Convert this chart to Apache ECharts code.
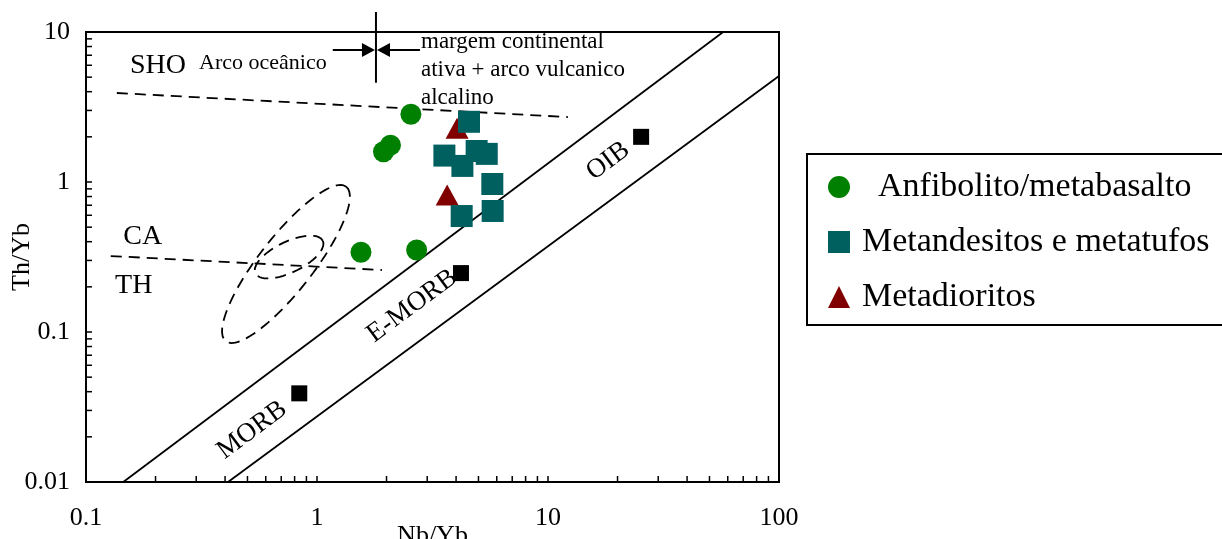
<!DOCTYPE html>
<html>
<head>
<meta charset="utf-8">
<script src="https://cdn.jsdelivr.net/npm/echarts@6/dist/echarts.min.js"></script>
<style>
  html, body { margin: 0; padding: 0; background: #fff; }
  #chart { width: 1222px; height: 539px; }
</style>
</head>
<body>
<div id="chart"></div>
<script>
// Th/Yb vs Nb/Yb discrimination diagram
const anfibolito   = [[2.55, 2.83], [2.08, 1.76], [1.94, 1.59], [1.55, 0.340], [2.70, 0.352]];
const metandesitos = [[4.55, 2.52], [3.56, 1.50], [4.26, 1.28], [4.91, 1.61], [5.43, 1.54],
                      [5.74, 0.97], [4.23, 0.593], [5.76, 0.641]];
const metadioritos = [[4.04, 2.28], [3.66, 0.819]];
const referencias  = [[0.838, 0.039], [4.20, 0.247], [25.3, 2.00]]; // MORB, E-MORB, OIB

// field boundaries
const arrayUpper = [[0.145, 0.01], [57.3, 10]];
const arrayLower = [[0.412, 0.01], [100, 5.09]];
const shoCaLine  = [[0.136, 3.92], [12.2, 2.71]];
const caThLine   = [[0.128, 0.321], [1.91, 0.259]];
const divider    = [[1.8, 13.6], [1.8, 4.59]];
const arrowLeft  = [[1.17, 7.59], [1.67, 7.59]];
const arrowRight = [[2.79, 7.59], [1.94, 7.59]];
// ellipses: centre, then two semi-axis vectors in decades (log10 units)
const ellipseLarge = [[0.734, 0.284], [0.261, 0.515], [0.092, -0.111]];
const ellipseSmall = [[0.757, 0.316], [0.146, 0.109], [0.029, -0.092]];

// annotation texts and where they sit
const noteTexts  = ['SHO', 'Arco oceânico', 'margem continental\nativa + arco vulcanico\nalcalino',
                    'CA', 'TH', 'MORB', 'E-MORB', 'OIB'];
const noteCoords = [[0.205, 5.93], [0.583, 6.21], [2.82, 5.6], [0.176, 0.433], [0.161, 0.204],
                    [0.524, 0.0222], [2.58, 0.149], [18.2, 1.38]];

const xTickLabels = ['0.1', '1', '10', '100'];
const yTickLabels = ['0.01', '0.1', '1', '10'];

const legendNames = ['Anfibolito/metabasalto', 'Metandesitos e metatufos', 'Metadioritos'];

const SERIF = '"Liberation Serif", "Times New Roman", serif';

function tickLabel(list) {
  return v => list.find(s => Math.abs(Math.log10(+s) - Math.log10(v)) < 1e-6) || '';
}

function ellipsePoints(e) {
  const [[cx, cy], [ax, ay], [bx, by]] = e;
  const pts = [];
  for (let i = 0; i <= 120; i++) {
    const t = 2 * Math.PI * i / 120;
    pts.push([cx * Math.pow(10, ax * Math.cos(t) + bx * Math.sin(t)),
              cy * Math.pow(10, ay * Math.cos(t) + by * Math.sin(t))]);
  }
  return pts;
}

// minor log ticks (2..9 within each decade), drawn inward
const minorTicks = [];
for (let e = -1; e < 2; e++) for (let m = 2; m <= 9; m++) minorTicks.push([m * Math.pow(10, e), 0.01, 0]);
for (let e = -2; e < 1; e++) for (let m = 2; m <= 9; m++) minorTicks.push([0.1, m * Math.pow(10, e), 1]);

function solid(name, data, extra) {
  return Object.assign({
    name, type: 'line', data, symbol: 'none', silent: true, z: 3,
    lineStyle: { color: '#000', width: 1.8 }
  }, extra || {});
}
function dashed(name, data) {
  return solid(name, data, { lineStyle: { color: '#000', width: 1.8, type: [11, 7] } });
}

const chart = echarts.init(document.getElementById('chart'), null, { renderer: 'canvas' });

chart.setOption({
  animation: false,
  backgroundColor: '#fff',
  textStyle: { fontFamily: SERIF },
  grid: {
    left: 86, top: 32, width: 693, height: 450,
    outerBoundsMode: 'none', containLabel: false,
    show: true, borderColor: '#000', borderWidth: 2, backgroundColor: 'transparent'
  },
  xAxis: {
    type: 'log', logBase: 10, min: 0.1, max: 100, splitNumber: 3,
    name: 'Nb/Yb', nameLocation: 'middle', nameGap: 41, nameMoveOverlap: false,
    nameTextStyle: { fontFamily: SERIF, fontSize: 26, color: '#000' },
    axisLine: { lineStyle: { color: '#000', width: 2 } },
    axisTick: { inside: true, length: 6, lineStyle: { color: '#000', width: 1.5 } },
    axisLabel: { fontFamily: SERIF, fontSize: 26, color: '#000', margin: 23, formatter: tickLabel(xTickLabels) },
    splitLine: { show: false }
  },
  yAxis: {
    type: 'log', logBase: 10, min: 0.01, max: 10, splitNumber: 3,
    name: 'Th/Yb', nameLocation: 'middle', nameGap: 51, nameMoveOverlap: false,
    nameTextStyle: { fontFamily: SERIF, fontSize: 26, color: '#000' },
    axisLine: { lineStyle: { color: '#000', width: 2 } },
    axisTick: { inside: true, length: 6, lineStyle: { color: '#000', width: 1.5 } },
    axisLabel: { fontFamily: SERIF, fontSize: 26, color: '#000', margin: 16, formatter: tickLabel(yTickLabels) },
    splitLine: { show: false }
  },
  legend: {
    orient: 'vertical', left: 807, top: 154,
    padding: [16, 14, 11, 21],
    itemGap: 21, itemWidth: 22, itemHeight: 22,
    borderColor: '#000', borderWidth: 2,
    itemStyle: { opacity: 1 },
    textStyle: { fontFamily: SERIF, fontSize: 34, color: '#000', padding: [0, 0, 0, 7] },
    data: [
      { name: legendNames[0], textStyle: { padding: [0, 0, 0, 23] } },
      { name: legendNames[1] },
      { name: legendNames[2] }
    ]
  },
  series: [
    solid('limite superior', arrayUpper),
    solid('limite inferior', arrayLower),
    dashed('SHO-CA', shoCaLine),
    dashed('CA-TH', caThLine),
    dashed('campo maior', ellipsePoints(ellipseLarge)),
    dashed('campo menor', ellipsePoints(ellipseSmall)),
    solid('divisor', divider, {
      clip: false,
      lineStyle: { color: '#000', width: 2 },
      markLine: {
        silent: true, animation: false,
        symbol: ['none', 'triangle'], symbolSize: [14, 13],
        lineStyle: { color: '#000', width: 2, type: 'solid' },
        itemStyle: { color: '#000' },
        label: { show: false },
        data: [
          [{ coord: arrowLeft[0] }, { coord: arrowLeft[1] }],
          [{ coord: arrowRight[0] }, { coord: arrowRight[1] }]
        ]
      }
    }),
    {
      name: 'ticks', type: 'custom', silent: true, z: 6, clip: false,
      data: minorTicks,
      renderItem(params, api) {
        const p = api.coord([api.value(0), api.value(1)]);
        const horiz = api.value(2) === 1;
        return {
          type: 'line',
          shape: horiz ? { x1: p[0], y1: p[1], x2: p[0] + 6, y2: p[1] }
                       : { x1: p[0], y1: p[1], x2: p[0], y2: p[1] - 6 },
          style: { stroke: '#000', lineWidth: 1.5 }
        };
      }
    },
    {
      name: 'Basaltos de referência', type: 'scatter', data: referencias,
      symbol: 'rect', symbolSize: 16, itemStyle: { color: '#000', opacity: 1 }, z: 4
    },
    {
      name: legendNames[2], type: 'scatter', data: metadioritos,
      symbol: 'triangle', symbolSize: [23, 21], itemStyle: { color: '#800000', opacity: 1 }, z: 4
    },
    {
      name: legendNames[0], type: 'scatter', data: anfibolito,
      symbol: 'circle', symbolSize: 21, itemStyle: { color: '#008000', opacity: 1 }, z: 4
    },
    {
      name: legendNames[1], type: 'scatter', data: metandesitos,
      symbol: 'rect', symbolSize: 22, itemStyle: { color: '#006060', opacity: 1 }, z: 4
    },
    {
      name: 'anotações', type: 'scatter', silent: true, z: 7,
      symbolSize: 1, itemStyle: { color: 'rgba(0,0,0,0)', opacity: 1 },
      label: { show: true, position: 'inside', color: '#000', fontFamily: SERIF,
               formatter: p => p.name },
      data: noteTexts.map((t, i) => {
        const item = { name: t, value: noteCoords[i] };
        if (t === 'SHO' || t === 'CA' || t === 'TH') {
          item.label = { fontSize: 28 };
        } else if (t === 'Arco oceânico') {
          item.label = { fontSize: 22 };
        } else if (i === 2) {
          item.label = { fontSize: 23, lineHeight: 28, align: 'left', verticalAlign: 'middle' };
        } else {
          item.label = { fontSize: 27, rotate: 36.6 };
        }
        return item;
      })
    }
  ]
});
</script>
</body>
</html>
